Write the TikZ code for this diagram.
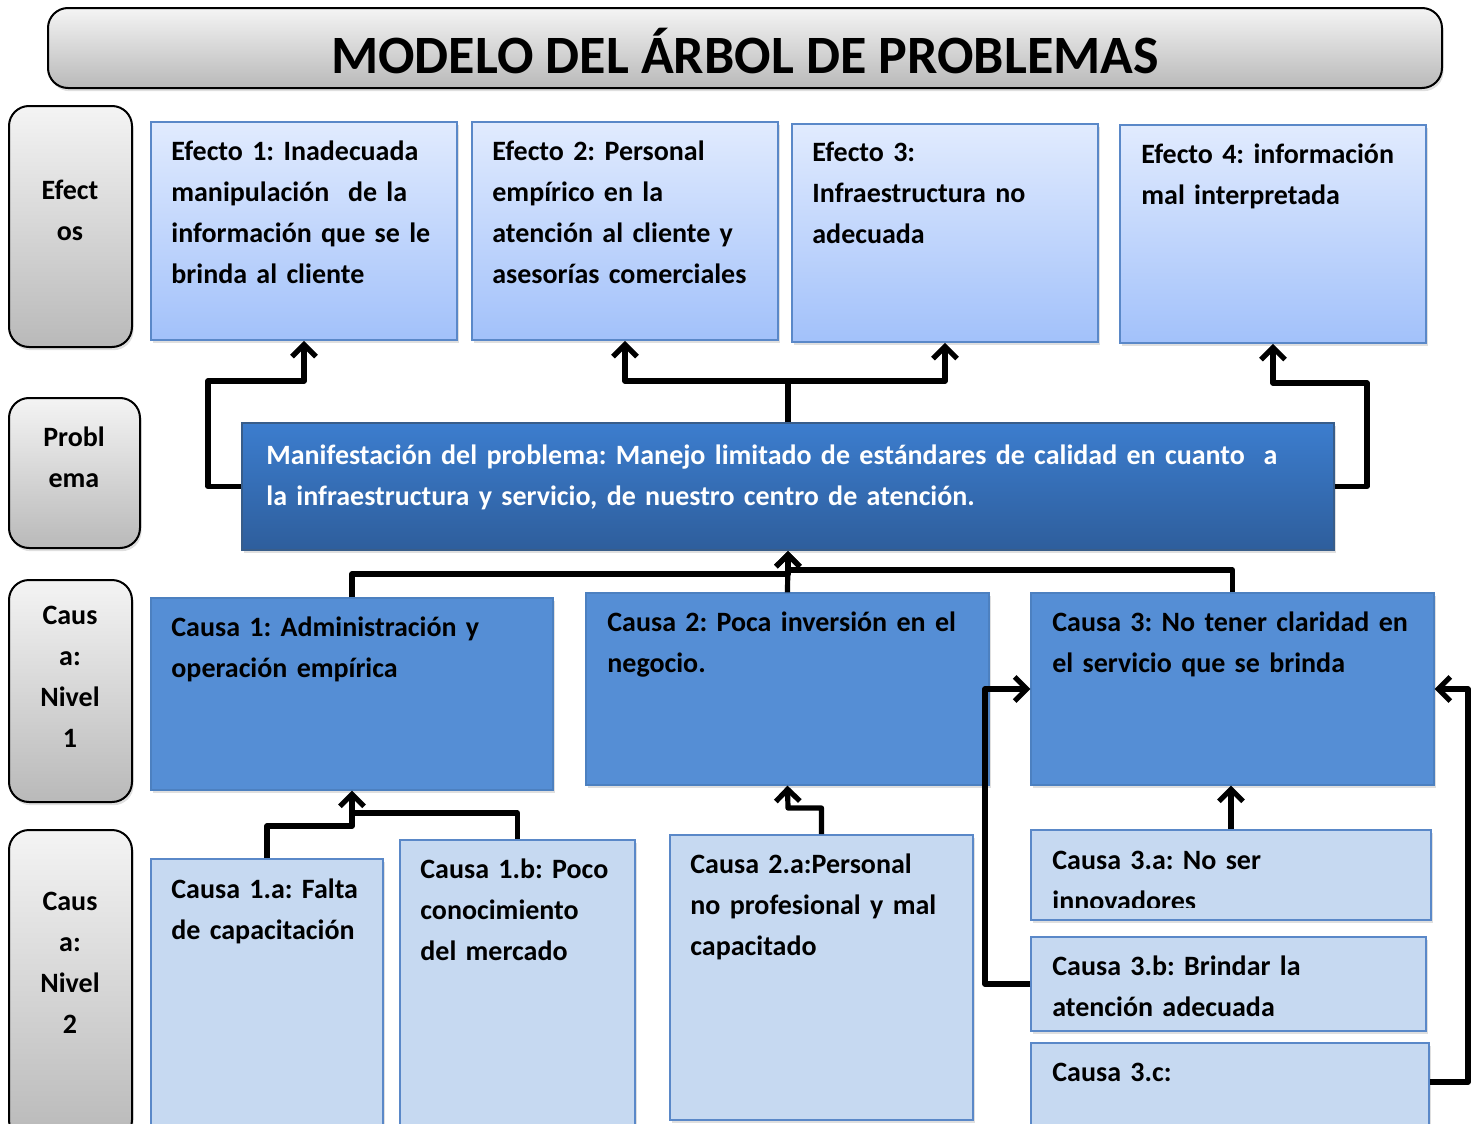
\documentclass[tikz,border=0pt]{standalone}
\usepackage{fontspec}
\setmainfont{Carlito}
\usetikzlibrary{arrows.meta,fit,shadows}
\frenchspacing

\definecolor{borde}{HTML}{5A88C8}
\definecolor{grisarriba}{HTML}{F4F4F4}
\definecolor{grisabajo}{HTML}{B9B9B9}
\definecolor{efectoarriba}{HTML}{E1EBFE}
\definecolor{efectoabajo}{HTML}{A2C1FA}
\definecolor{probarriba}{HTML}{3C7DCE}
\definecolor{probabajo}{HTML}{2E5E9C}
\definecolor{probborde}{HTML}{385D8A}
\definecolor{nivela}{HTML}{558ED5}
\definecolor{nivelb}{HTML}{C6D9F1}

\begin{document}
\begin{tikzpicture}[x=0.5pt,y=-0.5pt,
  every node/.style={inner sep=0pt},
  sombra/.style={drop shadow={shadow xshift=0.8pt,shadow yshift=-1.6pt,opacity=0.25}},
  etiqueta/.style={draw=black,line width=1pt,rounded corners=10pt,top color=grisarriba,bottom color=grisabajo,sombra},
  efecto/.style={draw=borde,line width=0.9pt,top color=efectoarriba,bottom color=efectoabajo,sombra},
  problema/.style={draw=probborde,line width=1pt,top color=probarriba,bottom color=probabajo,sombra},
  causa/.style={draw=nivela!90!black,line width=0.6pt,fill=nivela,sombra},
  subcausa/.style={draw=borde,line width=0.9pt,fill=nivelb,sombra},
  texto/.style={anchor=base west,text width=300pt,align=left,font=\bfseries\fontsize{14}{20.6}\selectfont},
  textolado/.style={anchor=base,text width=60pt,align=center,font=\bfseries\fontsize{14}{20.6}\selectfont},
  flecha/.style={line width=2.6pt,line join=round,-{Straight Barb[length=6pt,width=12pt]}},
  linea/.style={line width=2.6pt,line join=round}]
\clip (0,0) rectangle (1480,1124);

% titulo
\node[etiqueta,fit={(48,8) (1442,88)}] (titulo) {};
\node[anchor=base,font=\bfseries\fontsize{27}{30}\selectfont] (titulot) at (745,74) {MODELO DEL ÁRBOL DE PROBLEMAS};

% columna izquierda
\node[etiqueta,fit={(9,106) (132,347)}] (lefectos) {};
\node[textolado] (lefectost) at (70,199) {Efect\\os};
\node[etiqueta,fit={(9,398) (140,548)}] (lproblema) {};
\node[textolado] (lproblemat) at (74,446) {Probl\\ema};
\node[etiqueta,fit={(9,580) (132,802)}] (lnivela) {};
\node[textolado] (lnivelat) at (70,624) {Caus\\a:\\Nivel\\1};
\node[etiqueta,fit={(9,830) (132,1140)}] (lnivelb) {};
\node[textolado] (lnivelbt) at (70,910) {Caus\\a:\\Nivel\\2};

% efectos
\node[efecto,fit={(151,122) (457,340)}] (e1) {};
\node[texto] (e1t) at (171,160) {Efecto 1: Inadecuada\\manipulación~ de la\\información que se le\\brinda al cliente};
\node[efecto,fit={(472,122) (778,340)}] (e2) {};
\node[texto] (e2t) at (492,160) {Efecto 2: Personal\\empírico en la\\atención al cliente y\\asesorías comerciales};
\node[efecto,fit={(792,124) (1098,342)}] (e3) {};
\node[texto] (e3t) at (812,161) {Efecto 3:\\Infraestructura no\\adecuada};
\node[efecto,fit={(1120,125) (1426,343)}] (e4) {};
\node[texto] (e4t) at (1141,163) {Efecto 4: información\\mal interpretada};

% problema
\node[problema,fit={(242,423) (1334,550)}] (prob) {};
\node[texto,text=white,text width=560pt] (probt) at (266,464) {Manifestación del problema: Manejo limitado de estándares de calidad en cuanto~ a\\la infraestructura y servicio, de nuestro centro de atención.};

% causas nivel 1
\node[causa,fit={(151,598) (553,790)}] (c1) {};
\node[texto] (c1t) at (171,636) {Causa 1: Administración y\\operación empírica};
\node[causa,fit={(586,593) (989,785)}] (c2) {};
\node[texto] (c2t) at (607,631) {Causa 2: Poca inversión en el\\negocio.};
\node[causa,fit={(1031,593) (1434,785)}] (c3) {};
\node[texto] (c3t) at (1052,631) {Causa 3: No tener claridad en\\el servicio que se brinda};

% causas nivel 2
\node[subcausa,fit={(151,859) (383,1140)}] (c1a) {};
\node[texto] (c1at) at (171,898) {Causa 1.a: Falta\\de capacitación};
\node[subcausa,fit={(400,840) (635,1140)}] (c1b) {};
\node[texto] (c1bt) at (420,878) {Causa 1.b: Poco\\conocimiento\\del mercado};
\node[subcausa,fit={(670,835) (973,1120)}] (c2a) {};
\node[texto] (c2at) at (690,873) {Causa 2.a:Personal\\no profesional y mal\\capacitado};
\node[subcausa,fit={(1031,830) (1431,920)}] (c3a) {};
\begin{scope}
\clip (1031,830) rectangle (1431,907);
\node[texto] (c3at) at (1052,869) {Causa 3.a: No ser\\innovadores};
\end{scope}
\node[subcausa,fit={(1031,937) (1426,1031)}] (c3b) {};
\node[texto] (c3bt) at (1052,975) {Causa 3.b: Brindar la\\atención adecuada};
\node[subcausa,fit={(1031,1043) (1429,1128)}] (c3c) {};
\node[texto] (c3ct) at (1052,1081) {Causa 3.c:};

% problema -> efectos
\draw[flecha] (prob.west) -| (208,381) -| (e1.south);
\draw[linea] (prob.north) -- (788,381);
\draw[flecha] (788,381) -| (e2.south);
\draw[flecha] (788,381) -| (e3.south);
\draw[flecha] (prob.east) -| (1367,383) -| (e4.south);

% causas -> problema
\draw[flecha] (c1.north) |- (788,574) -- (prob.south);
\draw[linea] (c3.north) |- (788,570);
\draw[flecha] (c2.north) -- (prob.south);

% subcausas -> causas
\draw[flecha] (c1a.north) |- (352,826) -- (c1.south);
\draw[linea] (c1b.north) |- (352,813);
\draw[flecha] (c2a.north) |- (788,808) -- (c2.south);
\draw[flecha] (c3a.north) -- (c3a.north |- c3.south);
\draw[flecha] (c3b.west) -| (985,689) -- (c3.west);
\draw[flecha] ([yshift=1.75pt]c3c.east) -| (1468,689) -- (c3.east);
\end{tikzpicture}
\end{document}
